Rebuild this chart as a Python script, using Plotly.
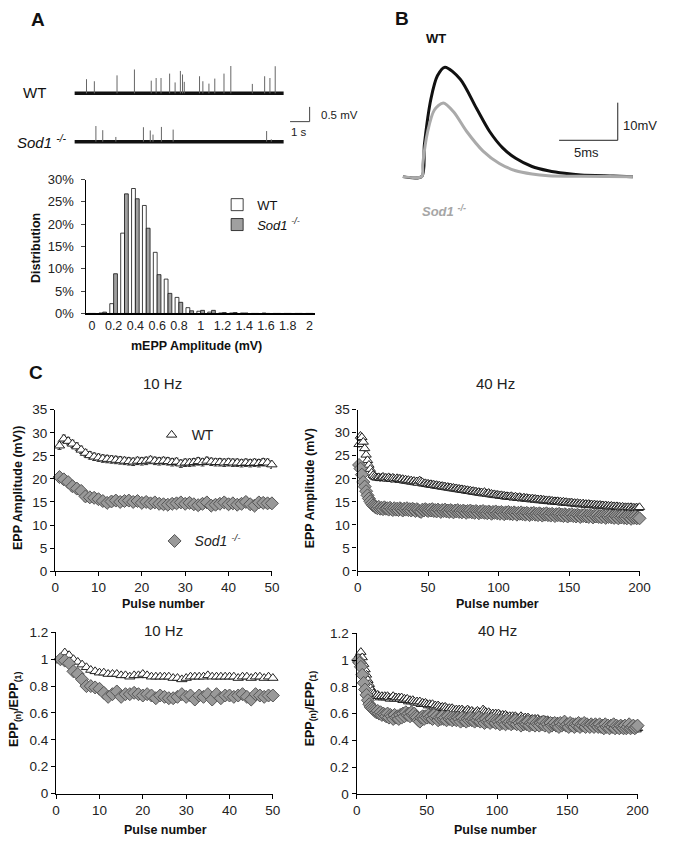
import plotly.graph_objects as go

W, H = 673, 846
FONT = "Arial, 'Liberation Sans', sans-serif"

# ---------------- Panel A: example mEPP traces ----------------
TRACE_DURATION_S = 10.7
wt_spike_t = [0.62, 1.02, 2.18, 3.07, 3.93, 4.18, 4.43, 4.87, 5.15, 5.42, 5.53, 5.62,
              6.40, 6.57, 6.88, 7.18, 7.65, 8.00, 9.10, 9.73, 10.00, 10.27]
wt_spike_amp = [0.48, 0.41, 0.61, 0.81, 0.43, 0.52, 0.52, 0.67, 0.37, 0.76, 0.64, 0.39,
                0.58, 0.41, 0.33, 0.50, 0.67, 0.94, 0.32, 0.58, 0.52, 0.92]
sod_spike_t = [1.10, 1.45, 2.12, 3.53, 3.88, 4.02, 4.45, 5.05, 9.83, 10.07]
sod_spike_amp = [0.53, 0.39, 0.16, 0.49, 0.38, 0.24, 0.50, 0.41, 0.36, 0.08]

# ---------------- Panel A: mEPP amplitude histogram ----------------
bins_mv = [0.0, 0.1, 0.2, 0.3, 0.4, 0.5, 0.6, 0.7, 0.8, 0.9, 1.0, 1.1, 1.2, 1.3, 1.4,
           1.5, 1.6, 1.7, 1.8, 1.9, 2.0]
hist_wt = [0.0, 0.1, 2.2, 18.0, 28.0, 24.2, 13.7, 7.7, 3.6, 1.3, 0.5, 0.3, 0.1, 0.1, 0.1,
           0.0, 0.1, 0.0, 0.0, 0.0, 0.0]
hist_sod = [0.0, 0.3, 8.9, 26.8, 25.7, 19.1, 8.7, 4.5, 2.5, 0.6, 0.7, 0.7, 0.2, 0.2, 0.1,
            0.0, 0.0, 0.0, 0.0, 0.0, 0.0]
hist_ticks = [0, 0.2, 0.4, 0.6, 0.8, 1, 1.2, 1.4, 1.6, 1.8, 2]
hist_ticktext = ["0", "0.2", "0.4", "0.6", "0.8", "1", "1.2", "1.4", "1.6", "1.8", "2"]

# ---------------- Panel B: averaged EPP waveforms ----------------
epp_wt_t = [0, 1.6, 1.83, 2.39, 2.94, 3.58, 4.89, 6.28, 7.39, 8.5, 9.61, 11.0, 12.39,
            13.78, 15.17, 17.94, 19.6]
epp_wt_mv = [0, 0, 8.5, 20.7, 26.8, 29.1, 25.9, 18.1, 12.0, 7.65, 4.87, 2.7, 1.57,
             0.87, 0.43, 0.17, 0]
epp_sod_t = [0, 1.61, 1.69, 2.11, 2.67, 3.44, 4.33, 5.44, 6.83, 8.22, 9.61, 11.0, 12.39,
             15.17, 19.6]
epp_sod_mv = [0, 0, 3.3, 12.0, 17.65, 19.6, 17.2, 12.0, 6.8, 3.5, 1.57, 0.7, 0.26,
              0.1, 0]

# ---------------- Panel C: trains ----------------
pulses10 = list(range(1, 51))
pulses40 = list(range(1, 201))

wt10_amp = [27.2, 28.7, 28.2, 27.6, 27.0, 26.3, 25.6, 25.1, 24.8, 24.6,
            24.4, 24.3, 24.2, 24.1, 24.0, 23.9, 23.8, 23.7, 23.9, 23.8,
            23.9, 24.1, 23.9, 23.8, 23.9, 23.8, 23.6, 23.7, 23.3, 23.5,
            23.5, 23.6, 23.8, 23.6, 23.9, 23.7, 23.6, 23.6, 23.5, 23.6,
            23.5, 23.5, 23.4, 23.5, 23.4, 23.5, 23.4, 23.6, 23.5, 23.1]
sod10_amp = [20.4, 19.9, 19.3, 18.4, 17.9, 17.4, 16.2, 16.0, 15.9, 15.6,
             15.2, 14.8, 15.1, 15.3, 15.0, 15.2, 15.3, 15.0, 15.2, 14.8,
             15.0, 14.7, 14.9, 14.6, 14.5, 14.4, 14.6, 14.7, 14.9, 14.6,
             14.8, 14.5, 14.3, 14.6, 14.9, 14.2, 14.4, 14.6, 14.9, 14.5,
             14.7, 14.4, 14.6, 15.0, 14.5, 14.2, 14.9, 14.8, 14.7, 14.7]
wt10_norm = [0.99, 1.05, 1.03, 1.00, 0.98, 0.96, 0.94, 0.92, 0.91, 0.90,
             0.90, 0.89, 0.89, 0.89, 0.88, 0.88, 0.87, 0.88, 0.88, 0.89,
             0.88, 0.87, 0.87, 0.87, 0.87, 0.87, 0.86, 0.86, 0.85, 0.86,
             0.87, 0.87, 0.87, 0.87, 0.88, 0.87, 0.87, 0.87, 0.87, 0.87,
             0.87, 0.86, 0.87, 0.87, 0.86, 0.87, 0.87, 0.86, 0.87, 0.86]
sod10_norm = [1.00, 0.99, 0.97, 0.91, 0.89, 0.85, 0.80, 0.80, 0.79, 0.78,
              0.75, 0.72, 0.74, 0.76, 0.72, 0.74, 0.74, 0.75, 0.74, 0.73,
              0.74, 0.73, 0.71, 0.73, 0.72, 0.71, 0.71, 0.72, 0.74, 0.72,
              0.73, 0.70, 0.73, 0.72, 0.74, 0.70, 0.74, 0.71, 0.73, 0.73,
              0.72, 0.73, 0.74, 0.72, 0.70, 0.74, 0.73, 0.72, 0.73, 0.73]

wt40_amp = [27.5, 29.3, 29.0, 28.0, 26.6, 25.2, 24.0, 23.0, 22.1, 21.3,
            20.8, 20.5, 20.3, 20.2, 20.3, 20.1, 20.2, 20.4, 20.1, 20.2,
            20.0, 20.3, 20.1, 19.9, 20.2, 20.0, 19.8, 20.1, 19.9, 20.0,
            19.7, 19.9, 19.6, 19.8, 19.5, 19.7, 19.4, 19.6, 19.3, 19.5,
            19.2, 19.4, 19.1, 19.6, 19.4, 19.2, 18.9, 19.0, 18.8, 18.9,
            18.7, 18.8, 18.6, 18.7, 18.5, 18.6, 18.4, 18.5, 18.3, 18.4,
            18.2, 18.3, 18.1, 18.2, 18.0, 18.1, 17.9, 18.0, 17.8, 17.9,
            17.7, 17.8, 17.6, 17.7, 17.5, 17.6, 17.4, 17.5, 17.3, 17.4,
            17.2, 17.3, 17.1, 17.2, 17.0, 17.1, 16.9, 17.0, 16.8, 17.1,
            16.8, 16.7, 16.9, 16.6, 16.7, 16.5, 16.6, 16.4, 16.5, 16.4,
            16.3, 16.4, 16.2, 16.3, 16.1, 16.2, 16.1, 16.0, 16.2, 16.0,
            15.9, 16.1, 15.9, 15.8, 16.0, 15.8, 15.7, 15.9, 15.7, 15.8,
            15.6, 15.7, 15.5, 15.7, 15.5, 15.6, 15.4, 15.5, 15.3, 15.5,
            15.3, 15.4, 15.2, 15.3, 15.1, 15.3, 15.1, 15.2, 15.0, 15.1,
            15.0, 15.1, 14.9, 15.0, 14.8, 15.0, 14.8, 14.9, 14.7, 14.8,
            14.7, 14.8, 14.6, 14.7, 14.5, 14.7, 14.5, 14.6, 14.4, 14.6,
            14.4, 14.5, 14.3, 14.5, 14.3, 14.4, 14.2, 14.4, 14.2, 14.3,
            14.1, 14.3, 14.1, 14.2, 14.0, 14.2, 14.0, 14.1, 13.9, 14.1,
            13.9, 14.0, 13.8, 14.0, 13.8, 13.9, 13.7, 13.9, 13.7, 13.8,
            13.7, 13.8, 13.6, 13.8, 13.6, 13.7, 13.6, 13.7, 13.6, 13.8]
sod40_amp = [23.0, 22.2, 20.9, 19.3, 18.3, 17.3, 16.4, 15.7, 15.1, 14.6,
             14.2, 14.0, 13.8, 13.6, 13.9, 13.5, 13.7, 13.4, 13.8, 13.5,
             13.6, 13.3, 13.7, 13.4, 13.2, 13.6, 13.3, 13.5, 13.2, 13.6,
             13.4, 13.1, 13.5, 13.3, 13.6, 13.2, 13.4, 13.1, 13.5, 13.3,
             13.0, 13.4, 13.2, 12.9, 12.8, 13.3, 13.1, 13.4, 13.2, 13.0,
             13.3, 13.1, 13.4, 13.0, 13.2, 12.9, 13.3, 13.1, 12.8, 13.2,
             13.0, 13.3, 12.9, 13.1, 12.8, 13.2, 13.0, 12.7, 13.1, 12.9,
             13.2, 12.8, 13.0, 12.7, 13.1, 12.9, 12.6, 13.0, 12.8, 13.1,
             12.7, 12.9, 12.6, 13.0, 12.8, 12.5, 12.9, 12.7, 13.0, 12.6,
             12.8, 12.5, 12.9, 12.7, 12.4, 12.8, 12.6, 12.9, 12.5, 12.7,
             12.4, 12.8, 12.6, 12.3, 12.7, 12.5, 12.8, 12.4, 12.6, 12.3,
             12.7, 12.5, 12.2, 12.6, 12.4, 12.7, 12.3, 12.5, 12.2, 12.6,
             12.4, 12.1, 12.5, 12.3, 12.6, 12.2, 12.4, 12.1, 12.5, 12.3,
             12.0, 12.4, 12.2, 12.5, 12.1, 12.3, 12.0, 12.4, 12.2, 11.9,
             12.3, 12.1, 12.4, 12.0, 12.2, 11.9, 12.3, 12.1, 11.8, 12.2,
             12.0, 12.3, 11.9, 12.1, 11.8, 12.2, 12.0, 11.7, 12.1, 11.9,
             12.2, 11.8, 12.0, 11.7, 12.1, 11.9, 11.6, 12.0, 11.8, 12.1,
             11.7, 11.9, 11.6, 12.0, 11.8, 11.5, 11.9, 11.7, 12.0, 11.6,
             11.8, 11.5, 11.9, 11.7, 11.4, 11.8, 11.6, 11.9, 11.5, 11.7,
             11.4, 11.8, 11.6, 11.3, 11.7, 11.5, 11.8, 11.4, 11.6, 11.4]
wt40_norm = [1.00, 1.04, 1.06, 1.02, 0.97, 0.93, 0.89, 0.85, 0.82, 0.79,
             0.77, 0.75, 0.74, 0.73, 0.74, 0.73, 0.72, 0.73, 0.72, 0.73,
             0.72, 0.73, 0.72, 0.71, 0.72, 0.73, 0.71, 0.72, 0.71, 0.72,
             0.71, 0.72, 0.70, 0.71, 0.70, 0.71, 0.69, 0.70, 0.69, 0.70,
             0.69, 0.68, 0.69, 0.68, 0.69, 0.67, 0.68, 0.67, 0.68, 0.67,
             0.66, 0.67, 0.66, 0.67, 0.65, 0.66, 0.65, 0.66, 0.65, 0.64,
             0.65, 0.64, 0.65, 0.64, 0.63, 0.64, 0.63, 0.64, 0.63, 0.62,
             0.63, 0.62, 0.63, 0.62, 0.63, 0.62, 0.61, 0.62, 0.63, 0.62,
             0.61, 0.62, 0.61, 0.60, 0.61, 0.62, 0.61, 0.60, 0.61, 0.63,
             0.62, 0.61, 0.60, 0.61, 0.60, 0.59, 0.60, 0.59, 0.60, 0.59,
             0.60, 0.59, 0.58, 0.59, 0.58, 0.59, 0.58, 0.57, 0.58, 0.57,
             0.58, 0.57, 0.58, 0.57, 0.56, 0.57, 0.58, 0.57, 0.56, 0.57,
             0.56, 0.57, 0.56, 0.55, 0.56, 0.55, 0.56, 0.55, 0.56, 0.55,
             0.54, 0.55, 0.54, 0.55, 0.54, 0.55, 0.54, 0.53, 0.54, 0.53,
             0.54, 0.53, 0.54, 0.53, 0.52, 0.53, 0.52, 0.53, 0.52, 0.53,
             0.52, 0.53, 0.52, 0.51, 0.52, 0.51, 0.52, 0.51, 0.52, 0.51,
             0.50, 0.51, 0.52, 0.51, 0.50, 0.51, 0.50, 0.51, 0.50, 0.51,
             0.50, 0.49, 0.50, 0.51, 0.50, 0.49, 0.50, 0.49, 0.50, 0.49,
             0.50, 0.49, 0.50, 0.49, 0.48, 0.49, 0.50, 0.49, 0.48, 0.49,
             0.48, 0.49, 0.48, 0.49, 0.48, 0.49, 0.48, 0.49, 0.48, 0.49]
sod40_norm = [1.00, 0.98, 0.95, 0.89, 0.83, 0.78, 0.74, 0.70, 0.67, 0.65,
              0.64, 0.63, 0.62, 0.61, 0.62, 0.60, 0.61, 0.59, 0.60, 0.59,
              0.58, 0.60, 0.57, 0.59, 0.58, 0.56, 0.59, 0.57, 0.58, 0.56,
              0.59, 0.57, 0.60, 0.58, 0.61, 0.59, 0.60, 0.58, 0.61, 0.59,
              0.60, 0.58, 0.57, 0.55, 0.54, 0.57, 0.58, 0.56, 0.58, 0.57,
              0.59, 0.57, 0.58, 0.56, 0.59, 0.57, 0.58, 0.55, 0.57, 0.56,
              0.58, 0.56, 0.57, 0.55, 0.58, 0.56, 0.57, 0.55, 0.57, 0.56,
              0.55, 0.57, 0.56, 0.54, 0.57, 0.55, 0.56, 0.54, 0.56, 0.55,
              0.57, 0.55, 0.56, 0.54, 0.56, 0.55, 0.57, 0.54, 0.56, 0.55,
              0.53, 0.56, 0.54, 0.55, 0.53, 0.56, 0.54, 0.55, 0.53, 0.55,
              0.54, 0.52, 0.55, 0.53, 0.54, 0.52, 0.55, 0.53, 0.54, 0.52,
              0.54, 0.53, 0.55, 0.52, 0.54, 0.53, 0.51, 0.54, 0.52, 0.53,
              0.52, 0.54, 0.51, 0.53, 0.52, 0.54, 0.51, 0.53, 0.52, 0.51,
              0.53, 0.52, 0.54, 0.51, 0.53, 0.52, 0.50, 0.53, 0.51, 0.52,
              0.53, 0.51, 0.52, 0.50, 0.53, 0.51, 0.52, 0.54, 0.51, 0.52,
              0.50, 0.53, 0.51, 0.52, 0.50, 0.52, 0.51, 0.53, 0.50, 0.52,
              0.51, 0.53, 0.50, 0.52, 0.51, 0.50, 0.52, 0.51, 0.50, 0.52,
              0.51, 0.50, 0.52, 0.50, 0.51, 0.49, 0.52, 0.50, 0.51, 0.49,
              0.51, 0.50, 0.52, 0.49, 0.51, 0.50, 0.49, 0.51, 0.50, 0.49,
              0.51, 0.49, 0.50, 0.52, 0.49, 0.50, 0.51, 0.49, 0.50, 0.51]

SEM_10HZ_WT = 0.8
SEM_10HZ_SOD = 1.0
SEM_40HZ = 0.6

# ---------------- helpers (layout in pixels) ----------------
def xd(a, b):
    return [a / W, b / W]

def yd(top, bottom):
    return [1 - bottom / H, 1 - top / H]

def px(x):
    return x / W

def py(y):
    return 1 - y / H

WT_MARK = dict(symbol="triangle-up", size=9, color="white", line=dict(color="#222", width=1))
SOD_MARK = dict(symbol="diamond", size=10, color="#999999", line=dict(color="#555", width=1))

fig = go.Figure()

# ---- Panel A traces (xaxis1 / yaxis1) ----
WT_BASE = 2.07
SOD_BASE = 0.43

def spikes(ts, amps, base):
    xs, ys = [], []
    for t, a in zip(ts, amps):
        xs += [t, t, None]
        ys += [base, base + a, None]
    return xs, ys

for base, ts, amps in [(WT_BASE, wt_spike_t, wt_spike_amp), (SOD_BASE, sod_spike_t, sod_spike_amp)]:
    fig.add_trace(go.Scatter(x=[0, TRACE_DURATION_S], y=[base, base], mode="lines",
                             line=dict(color="#111", width=3.5), showlegend=False,
                             xaxis="x", yaxis="y", hoverinfo="skip"))
    sx, sy = spikes(ts, amps, base)
    fig.add_trace(go.Scatter(x=sx, y=sy, mode="lines", line=dict(color="#666", width=1),
                             showlegend=False, xaxis="x", yaxis="y", hoverinfo="skip"))

# scale bar (1 s, 0.5 mV)
SB_T, SB_V = 12.03, 1.11
fig.add_trace(go.Scatter(x=[SB_T - 1.0, SB_T, SB_T], y=[SB_V, SB_V, SB_V + 0.5], mode="lines",
                         line=dict(color="#444", width=1), showlegend=False,
                         xaxis="x", yaxis="y", hoverinfo="skip"))

# ---- Histogram (xaxis2 / yaxis2) ----
fig.add_trace(go.Bar(x=bins_mv, y=hist_wt, name="WT", marker=dict(color="white", line=dict(color="#111", width=0.8)),
                     xaxis="x2", yaxis="y2", legend="legend"))
fig.add_trace(go.Bar(x=bins_mv, y=hist_sod, name="<i>Sod1 <sup>-/-</sup></i>",
                     marker=dict(color="#a0a0a0", line=dict(color="#111", width=0.8)),
                     xaxis="x2", yaxis="y2", legend="legend"))

# ---- Panel B (xaxis3 / yaxis3) ----
fig.add_trace(go.Scatter(x=epp_wt_t, y=epp_wt_mv, mode="lines", line=dict(color="#111", width=3, shape="spline", smoothing=0.8),
                         showlegend=False, xaxis="x3", yaxis="y3", hoverinfo="skip"))
fig.add_trace(go.Scatter(x=epp_sod_t, y=epp_sod_mv, mode="lines", line=dict(color="#aaaaaa", width=3, shape="spline", smoothing=0.8),
                         showlegend=False, xaxis="x3", yaxis="y3", hoverinfo="skip"))
SBB_T, SBB_V = 18.31, 9.66
fig.add_trace(go.Scatter(x=[SBB_T - 5, SBB_T, SBB_T], y=[SBB_V, SBB_V, SBB_V + 10], mode="lines",
                         line=dict(color="#222", width=1), showlegend=False,
                         xaxis="x3", yaxis="y3", hoverinfo="skip"))

# ---- Panel C ----
fig.add_trace(go.Scatter(x=pulses10, y=wt10_amp, mode="markers", marker=WT_MARK, name="WT",
                         error_y=dict(type="constant", value=SEM_10HZ_WT, color="#333", thickness=1, width=2),
                         xaxis="x4", yaxis="y4", legend="legend2", cliponaxis=False))
fig.add_trace(go.Scatter(x=pulses10, y=sod10_amp, mode="markers", marker=SOD_MARK, name="<i>Sod1 <sup>-/-</sup></i>",
                         error_y=dict(type="constant", value=SEM_10HZ_SOD, color="#333", thickness=1, width=2),
                         xaxis="x4", yaxis="y4", legend="legend3", cliponaxis=False))

fig.add_trace(go.Scatter(x=pulses40, y=wt40_amp, mode="markers", marker=WT_MARK, showlegend=False,
                         error_y=dict(type="constant", value=SEM_40HZ, color="#333", thickness=1, width=1),
                         xaxis="x5", yaxis="y5", cliponaxis=False))
fig.add_trace(go.Scatter(x=pulses40, y=sod40_amp, mode="markers", marker=SOD_MARK, showlegend=False,
                         error_y=dict(type="constant", value=SEM_40HZ, color="#333", thickness=1, width=1),
                         xaxis="x5", yaxis="y5", cliponaxis=False))

fig.add_trace(go.Scatter(x=pulses10, y=wt10_norm, mode="markers", marker=WT_MARK, showlegend=False,
                         xaxis="x6", yaxis="y6", cliponaxis=False))
fig.add_trace(go.Scatter(x=pulses10, y=sod10_norm, mode="markers", marker=SOD_MARK, showlegend=False,
                         xaxis="x6", yaxis="y6", cliponaxis=False))

fig.add_trace(go.Scatter(x=pulses40, y=wt40_norm, mode="markers", marker=WT_MARK, showlegend=False,
                         xaxis="x7", yaxis="y7", cliponaxis=False))
fig.add_trace(go.Scatter(x=pulses40, y=sod40_norm, mode="markers", marker=SOD_MARK, showlegend=False,
                         xaxis="x7", yaxis="y7", cliponaxis=False))

# ---------------- axes ----------------
hidden = dict(visible=False, showgrid=False, zeroline=False, fixedrange=True)

def cax(domain, rng, dtick, anchor):
    return dict(domain=domain, range=rng, dtick=dtick, anchor=anchor, showline=True,
                linecolor="#000", linewidth=1.3, ticks="outside", ticklen=4, tickcolor="#000",
                showgrid=False, zeroline=False, tickfont=dict(size=13.5, color="#222", family=FONT))

layout = dict(
    width=W, height=H, margin=dict(l=0, r=0, t=0, b=0),
    paper_bgcolor="white", plot_bgcolor="white",
    font=dict(family=FONT, color="#111"),
    barmode="group", bargap=0.3, bargroupgap=0.0,
    xaxis=dict(domain=xd(72, 332), range=[0, 13], anchor="y", **hidden),
    yaxis=dict(domain=yd(60, 150), range=[0, 3], anchor="x", **hidden),
    xaxis2=dict(domain=xd(84.3, 318), range=[-0.05, 2.05], anchor="y2", showline=True,
                linecolor="#000", linewidth=1.5, ticks="", tickvals=hist_ticks, ticktext=hist_ticktext,
                showgrid=False, zeroline=False, tickfont=dict(size=12.5, color="#222")),
    yaxis2=dict(domain=yd(175.7, 312), range=[0, 30], dtick=5, ticksuffix="%", anchor="x2",
                showline=True, linecolor="#000", linewidth=1, ticks="outside", ticklen=4,
                ticklabelstandoff=5,
                showgrid=False, zeroline=False, tickfont=dict(size=13, color="#222")),
    xaxis3=dict(domain=xd(400, 670), range=[-0.667, 21.83], anchor="y3", **hidden),
    yaxis3=dict(domain=yd(50, 190), range=[-4.52, 32.04], anchor="x3", **hidden),
    xaxis4=cax(xd(52.3, 274), [0, 50], 10, "y4"),
    yaxis4=cax(yd(410, 574.3), [0, 35], 5, "x4"),
    xaxis5=cax(xd(361.7, 650), [0, 200], 50, "y5"),
    yaxis5=cax(yd(410, 574), [0, 35], 5, "x5"),
    xaxis6=cax(xd(53.3, 275), [0, 50], 10, "y6"),
    yaxis6=cax(yd(636.7, 800.7), [0, 1.2], 0.2, "x6"),
    xaxis7=cax(xd(360.7, 648), [0, 200], 50, "y7"),
    yaxis7=cax(yd(637.7, 801), [0, 1.2], 0.2, "x7"),
    legend=dict(x=px(218), y=py(186), xanchor="left", yanchor="top", bgcolor="rgba(0,0,0,0)",
                font=dict(size=13, color="#111"), tracegroupgap=2),
    legend2=dict(x=px(151), y=py(436), xanchor="left", yanchor="middle", bgcolor="rgba(0,0,0,0)",
                 font=dict(size=14, color="#222")),
    legend3=dict(x=px(154), y=py(544), xanchor="left", yanchor="middle", bgcolor="rgba(0,0,0,0)",
                 font=dict(size=14, color="#222")),
)
fig.update_layout(**layout)

# ---------------- text ----------------
def ann(text, x, y, size=13, bold=False, italic=False, color="#111", angle=0, xanchor="center"):
    if bold:
        text = "<b>" + text + "</b>"
    if italic:
        text = "<i>" + text + "</i>"
    fig.add_annotation(text=text, x=px(x), y=py(y), xref="paper", yref="paper", showarrow=False,
                       font=dict(size=size, color=color, family=FONT), textangle=angle,
                       xanchor=xanchor, yanchor="middle")

ann("A", 35, 13, size=19, bold=True)
ann("WT", 31, 87, size=15)
ann("Sod1 <sup>-/-</sup>", 39, 137, size=15, italic=True)
ann("0.5 mV", 322, 110, size=11.5, xanchor="left", color="#222")
ann("1 s", 302, 127, size=11.5, color="#222")
ann("Distribution", 32, 245, size=12.5, bold=True, angle=-90)
ann("mEPP Amplitude (mV)", 197, 345, size=12.5, bold=True)

ann("B", 407, 12, size=19, bold=True)
ann("WT", 442, 32, size=13, bold=True)
ann("Sod1 <sup>-/-</sup>", 450, 208, size=13, bold=True, italic=True, color="#a6a6a6")
ann("10mV", 631, 121, size=13, xanchor="left", color="#222")
ann("5ms", 596, 148, size=13, color="#222")

ann("C", 33, 372, size=19, bold=True)
ann("10 Hz", 162, 383, size=15, color="#222")
ann("40 Hz", 503, 383, size=15, color="#222")
ann("10 Hz", 163, 635, size=15, color="#222")
ann("40 Hz", 505, 635, size=15, color="#222")
ann("EPP Amplitude (mV))", 15, 490, size=12.5, bold=True, angle=-90)
ann("EPP Amplitude (mV)", 313, 490, size=12.5, bold=True, angle=-90)
ann("EPP<sub>(n)</sub>/EPP<sub>(1)</sub>", 12, 715, size=12.5, bold=True, angle=-90)
ann("EPP<sub>(n)</sub>/EPP<sub>(1)</sub>", 314, 715, size=12.5, bold=True, angle=-90)
ann("Pulse number", 163, 608, size=12.5, bold=True)
ann("Pulse number", 505, 608, size=12.5, bold=True)
ann("Pulse number", 165, 838, size=12.5, bold=True)
ann("Pulse number", 503, 838, size=12.5, bold=True)

fig.write_html("out.html", config={"displayModeBar": False},
               post_script="document.body.style.margin='0';document.body.style.overflow='hidden';")
